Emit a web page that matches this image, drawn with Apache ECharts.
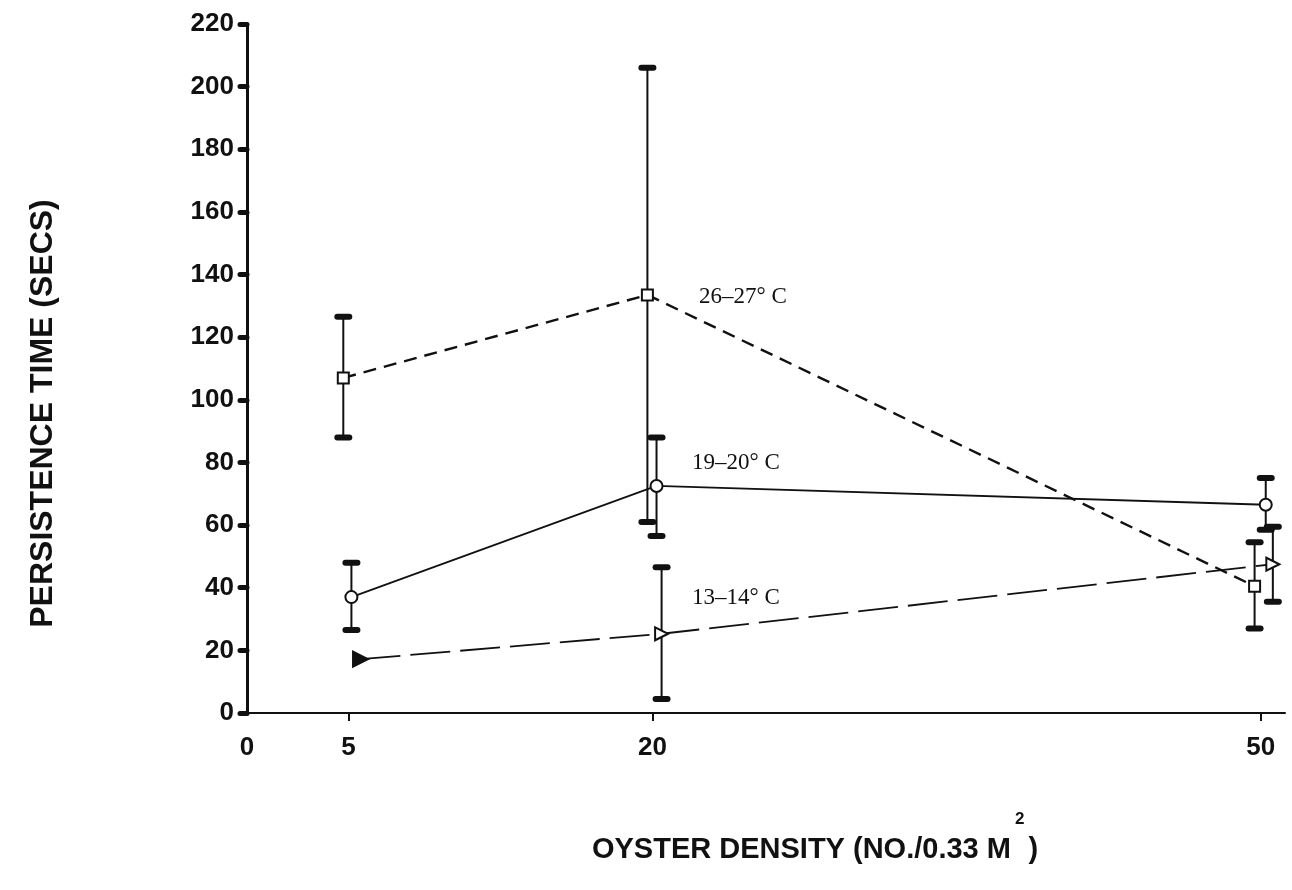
<!DOCTYPE html>
<html>
<head>
<meta charset="utf-8">
<title>Persistence time vs oyster density</title>
<script src="https://cdn.jsdelivr.net/npm/echarts@6/dist/echarts.min.js"></script>
<style>
  html, body { margin: 0; padding: 0; background: #fff; }
  #chart { width: 1292px; height: 890px; }
</style>
</head>
<body>
<div id="chart"></div>
<script>
// Axis tick labels
const densityTicks = [0, 5, 20, 50];
const densityMarks = [5, 20, 50];

// 26–27 °C (squares, dashed)
const warmX = [4.75, 19.75, 49.7];
const warmMean = [107, 133.5, 40.5];
const warmLow = [88, 61, 27];
const warmHigh = [126.5, 206, 54.5];

// 19–20 °C (circles, solid)
const midX = [5.15, 20.2, 50.25];
const midMean = [37, 72.5, 66.5];
const midLow = [26.5, 56.5, 58.5];
const midHigh = [48, 88, 75];

// 13–14 °C (right-pointing triangles, long dashes)
const coolX = [5.6, 20.45, 50.6];
const coolMean = [17.2, 25.3, 47.5];
const coolLow = [null, 4.5, 35.5];
const coolHigh = [null, 46.5, 59.5];

// Where each temperature label sits, in data units
const labelAt = {
  warm: [22.3, 133],
  mid: [21.95, 80],
  cool: [21.95, 36.7]
};

const INK = '#111';

function pointsOf(xs, ys) {
  return xs.map((x, i) => [x, ys[i]]);
}
function barsOf(xs, lows, highs) {
  const out = [];
  xs.forEach((x, i) => {
    if (lows[i] != null && highs[i] != null) out.push([x, lows[i], highs[i]]);
  });
  return out;
}

function renderErrorBar(params, api) {
  const x = api.value(0);
  const lo = api.coord([x, api.value(1)]);
  const hi = api.coord([x, api.value(2)]);
  const capHalf = 6;
  const capStyle = { stroke: INK, lineWidth: 6, lineCap: 'round' };
  return {
    type: 'group',
    children: [
      { type: 'line', shape: { x1: lo[0], y1: lo[1], x2: hi[0], y2: hi[1] },
        style: { stroke: INK, lineWidth: 2 } },
      { type: 'line', shape: { x1: hi[0] - capHalf, y1: hi[1], x2: hi[0] + capHalf, y2: hi[1] },
        style: capStyle },
      { type: 'line', shape: { x1: lo[0] - capHalf, y1: lo[1], x2: lo[0] + capHalf, y2: lo[1] },
        style: capStyle }
    ]
  };
}

function errorSeries(name, data) {
  return {
    name: name,
    type: 'custom',
    renderItem: renderErrorBar,
    data: data,
    encode: { x: 0, y: [1, 2] },
    z: 2,
    silent: true
  };
}

function tempLabel(pos) {
  return {
    symbol: 'circle',
    symbolSize: 0,
    silent: true,
    label: {
      show: true,
      position: 'right',
      distance: 0,
      formatter: p => p.seriesName,
      fontFamily: 'Liberation Serif',
      fontSize: 23,
      color: INK
    },
    data: [{ coord: pos }]
  };
}

const chart = echarts.init(document.getElementById('chart'), null, { renderer: 'canvas' });

const tickFont = { fontFamily: 'Liberation Sans', fontWeight: 'bold', fontSize: 26, color: INK };

chart.setOption({
  backgroundColor: '#fff',
  animation: false,
  grid: { left: 247, right: 7, top: 24, bottom: 177, containLabel: false, outerBoundsMode: 'none' },
  xAxis: {
    type: 'value',
    min: 0,
    max: 51.2,
    splitLine: { show: false },
    axisLine: { show: true, onZero: false, lineStyle: { color: INK, width: 2 } },
    axisTick: { show: true, customValues: densityMarks, length: 8, lineStyle: { color: INK, width: 2 } },
    axisLabel: Object.assign({ customValues: densityTicks, margin: 22 }, tickFont),
    name: '{t|OYSTER DENSITY (NO./0.33 M}{s|2}{t|)}',
    nameLocation: 'middle',
    nameGap: 98,
    nameTextStyle: {
      padding: [0, 0, 0, 98],
      rich: {
        t: { fontFamily: 'Liberation Sans', fontWeight: 'bold', fontSize: 29, color: INK, lineHeight: 78 },
        s: { fontFamily: 'Liberation Sans', fontWeight: 'bold', fontSize: 17, color: INK,
             verticalAlign: 'top', lineHeight: 17, padding: [0, 4, 0, 4] }
      }
    }
  },
  yAxis: {
    type: 'value',
    min: 0,
    max: 220,
    interval: 20,
    splitLine: { show: false },
    axisLine: { show: true, lineStyle: { color: INK, width: 3 } },
    axisTick: { show: true, length: 7, lineStyle: { color: INK, width: 5, cap: 'round' } },
    axisLabel: Object.assign({ margin: 13 }, tickFont),
    name: 'PERSISTENCE TIME (SECS)',
    nameLocation: 'middle',
    nameGap: 188,
    nameTextStyle: {
      fontFamily: 'Liberation Sans', fontWeight: 'bold', fontSize: 32, color: INK,
      padding: [0, 90, 0, 0]
    }
  },
  series: [
    errorSeries('26–27° C', barsOf(warmX, warmLow, warmHigh)),
    errorSeries('19–20° C', barsOf(midX, midLow, midHigh)),
    errorSeries('13–14° C', barsOf(coolX, coolLow, coolHigh)),
    {
      name: '26–27° C',
      type: 'line',
      data: pointsOf(warmX, warmMean),
      symbol: 'rect',
      symbolSize: 11,
      showAllSymbol: true,
      itemStyle: { color: '#fff', borderColor: INK, borderWidth: 2 },
      lineStyle: { color: INK, width: 2.4, type: [13, 8] },
      z: 3,
      markPoint: tempLabel(labelAt.warm)
    },
    {
      name: '19–20° C',
      type: 'line',
      data: pointsOf(midX, midMean),
      symbol: 'circle',
      symbolSize: 12,
      showAllSymbol: true,
      itemStyle: { color: '#fff', borderColor: INK, borderWidth: 2 },
      lineStyle: { color: INK, width: 1.8, type: 'solid' },
      z: 3,
      markPoint: tempLabel(labelAt.mid)
    },
    {
      name: '13–14° C',
      type: 'line',
      data: pointsOf(coolX, coolMean).map((p, i) => i === 0
        ? { value: p, symbolSize: 15, itemStyle: { color: INK } }
        : p),
      symbol: 'triangle',
      symbolRotate: -90,
      symbolSize: 13,
      showAllSymbol: true,
      itemStyle: { color: '#fff', borderColor: INK, borderWidth: 2 },
      lineStyle: { color: INK, width: 1.8, type: [40, 10] },
      z: 3,
      markPoint: tempLabel(labelAt.cool)
    }
  ]
});
</script>
</body>
</html>
